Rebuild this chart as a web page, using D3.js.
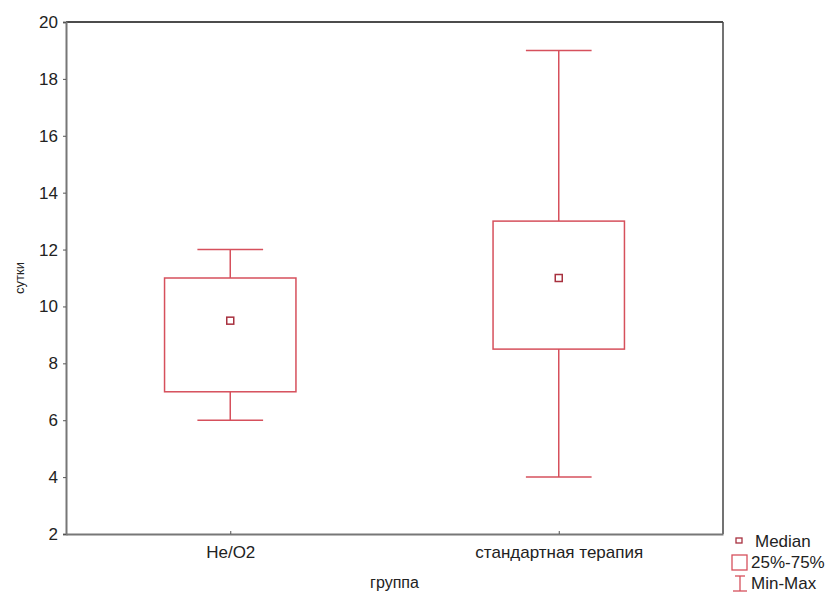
<!DOCTYPE html>
<html>
<head>
<meta charset="utf-8">
<script src="https://cdn.jsdelivr.net/npm/d3@7"></script>
<style>
  body { margin: 0; background: #fff; }
  svg text { font-family: "Liberation Sans", Arial, sans-serif; fill: #222; }
</style>
</head>
<body>
<div id="chart"></div>
<script>
const groups = ["He/O2", "стандартная терапия"];
const minValues = [6, 4];
const q1Values = [7, 8.5];
const medianValues = [9.5, 11];
const q3Values = [11, 13];
const maxValues = [12, 19];
const yTicks = [2, 4, 6, 8, 10, 12, 14, 16, 18, 20];

const width = 830;
const height = 593;
const margin = { top: 22, right: 107, bottom: 59, left: 66 };
const red = "#d6505c";

const svg = d3.select("#chart")
  .append("svg")
  .attr("width", width)
  .attr("height", height);

const x = d3.scalePoint()
  .domain(groups)
  .range([margin.left, width - margin.right])
  .padding(0.5);

const y = d3.scaleLinear()
  .domain([2, 20])
  .range([height - margin.bottom, margin.top]);

const plotW = width - margin.left - margin.right;
const boxW = plotW * 0.2;
const capW = boxW / 2;

// frame: top and right thin black
svg.append("line")
  .attr("x1", margin.left).attr("x2", width - margin.right)
  .attr("y1", margin.top).attr("y2", margin.top)
  .attr("stroke", "#111").attr("stroke-width", 1.5);
svg.append("line")
  .attr("x1", width - margin.right).attr("x2", width - margin.right)
  .attr("y1", margin.top).attr("y2", height - margin.bottom)
  .attr("stroke", "#444").attr("stroke-width", 1.5);

// y axis
const yAxis = svg.append("g")
  .attr("transform", `translate(${margin.left},0)`)
  .call(d3.axisLeft(y).tickValues(yTicks).tickSize(3).tickPadding(5));
yAxis.select(".domain").attr("stroke", "#777").attr("stroke-width", 2);
yAxis.selectAll(".tick line").attr("stroke", "#555");
yAxis.selectAll("text").attr("font-size", 17).attr("fill", "#222");

// x axis
const xAxis = svg.append("g")
  .attr("transform", `translate(0,${height - margin.bottom})`)
  .call(d3.axisBottom(x).tickSizeInner(-3).tickSizeOuter(0).tickPadding(12));
xAxis.select(".domain").attr("stroke", "#777").attr("stroke-width", 2);
xAxis.selectAll(".tick line").attr("stroke", "#555");
xAxis.selectAll("text").attr("font-size", 17).attr("fill", "#222");

// axis titles
svg.append("text")
  .attr("transform", `translate(24,${y(11)}) rotate(-90)`)
  .attr("text-anchor", "middle")
  .attr("font-size", 13)
  .text("сутки");

svg.append("text")
  .attr("x", (margin.left + width - margin.right) / 2)
  .attr("y", 588)
  .attr("text-anchor", "middle")
  .attr("font-size", 16)
  .text("группа");

// boxes
const g = svg.append("g");
groups.forEach((grp, i) => {
  const cx = x(grp);
  // whiskers
  g.append("line")
    .attr("x1", cx).attr("x2", cx)
    .attr("y1", y(maxValues[i])).attr("y2", y(q3Values[i]))
    .attr("stroke", red).attr("stroke-width", 1.5);
  g.append("line")
    .attr("x1", cx).attr("x2", cx)
    .attr("y1", y(q1Values[i])).attr("y2", y(minValues[i]))
    .attr("stroke", red).attr("stroke-width", 1.5);
  g.append("line")
    .attr("x1", cx - capW / 2).attr("x2", cx + capW / 2)
    .attr("y1", y(maxValues[i])).attr("y2", y(maxValues[i]))
    .attr("stroke", red).attr("stroke-width", 1.5);
  g.append("line")
    .attr("x1", cx - capW / 2).attr("x2", cx + capW / 2)
    .attr("y1", y(minValues[i])).attr("y2", y(minValues[i]))
    .attr("stroke", red).attr("stroke-width", 1.5);
  // box
  g.append("rect")
    .attr("x", cx - boxW / 2)
    .attr("y", y(q3Values[i]))
    .attr("width", boxW)
    .attr("height", y(q1Values[i]) - y(q3Values[i]))
    .attr("fill", "none")
    .attr("stroke", red).attr("stroke-width", 1.5);
  // median
  g.append("rect")
    .attr("x", cx - 3.5)
    .attr("y", y(medianValues[i]) - 3.5)
    .attr("width", 7).attr("height", 7)
    .attr("fill", "#fff")
    .attr("stroke", "#a8313f").attr("stroke-width", 1.5);
});

// legend
const leg = svg.append("g");
leg.append("rect")
  .attr("x", 736).attr("y", 538).attr("width", 6).attr("height", 5)
  .attr("fill", "#fff").attr("stroke", "#a8313f").attr("stroke-width", 1.3);
leg.append("text").attr("x", 755).attr("y", 547).attr("font-size", 17).text("Median");

leg.append("rect")
  .attr("x", 732).attr("y", 555).attr("width", 15).attr("height", 15)
  .attr("fill", "none").attr("stroke", red).attr("stroke-width", 1.3);
leg.append("text").attr("x", 751).attr("y", 568).attr("font-size", 17).text("25%-75%");

leg.append("line").attr("x1", 740).attr("x2", 740).attr("y1", 576).attr("y2", 591)
  .attr("stroke", red).attr("stroke-width", 1.3);
leg.append("line").attr("x1", 735).attr("x2", 745).attr("y1", 576).attr("y2", 576)
  .attr("stroke", red).attr("stroke-width", 1.3);
leg.append("line").attr("x1", 733).attr("x2", 747).attr("y1", 591).attr("y2", 591)
  .attr("stroke", red).attr("stroke-width", 1.3);
leg.append("text").attr("x", 751).attr("y", 589).attr("font-size", 17).text("Min-Max");
</script>
</body>
</html>
